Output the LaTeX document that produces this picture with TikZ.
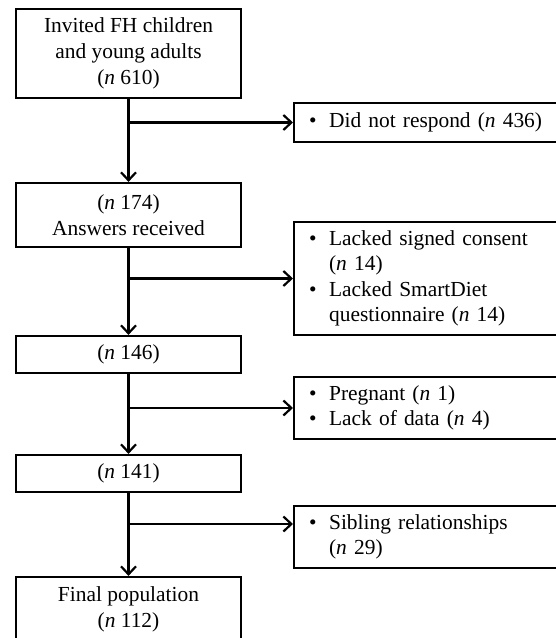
\documentclass[tikz,border=0pt]{standalone}
\usepackage{fontspec}
\setmainfont{Liberation Serif}
\usetikzlibrary{arrows.meta, positioning}

\newcommand{\bul}{\makebox[20bp][l]{\textbullet}}
\newcommand{\ind}{\hspace*{20bp}}
\newcommand{\nn}{\textit{n}}

\tikzset{
  mainbox/.style={draw, line width=2.2bp, minimum width=225bp, align=center, inner sep=0pt,
    font=\fontsize{21.5}{26}\selectfont},
  exclbox/.style={draw, line width=2.2bp, anchor=west, align=left, inner xsep=15bp, inner ysep=0pt,
    text width=240bp, font=\fontsize{21.5}{25.5}\selectfont},
  flow/.style={line width=2.2bp, -{Straight Barb[length=8bp,width=15bp,line width=2.2bp]}},
}

\begin{document}
\begin{tikzpicture}[x=1bp, y=-1bp]
  \useasboundingbox (0,0) rectangle (556,638);

  % Main flow boxes
  \node[mainbox, minimum height=89bp] (invited) at (128.5,53.5)
    {Invited FH children\\and young adults\\(\nn{} 610)};
  \node[mainbox, minimum height=64bp] (answers) at (128.5,215)
    {(\nn{} 174)\\Answers received};
  \node[mainbox, minimum height=37bp] (n146) at (128.5,354.5) {(\nn{} 146)};
  \node[mainbox, minimum height=37bp] (n141) at (128.5,473.5) {(\nn{} 141)};
  \node[mainbox, minimum height=64bp] (final) at (128.5,609)
    {Final population\\(\nn{} 112)};

  % Exclusion boxes
  \node[exclbox, minimum height=39bp] (noresp) at (293,122.5)
    {\bul Did not respond (\nn{} 436)};
  \node[exclbox, minimum height=113bp] (consent) at (293,278.5)
    {\bul Lacked signed consent\\\ind(\nn{} 14)\\\bul Lacked SmartDiet\\\ind questionnaire (\nn{} 14)};
  \node[exclbox, minimum height=62bp] (pregnant) at (293,408)
    {\bul Pregnant (\nn{} 1)\\\bul Lack of data (\nn{} 4)};
  \node[exclbox, minimum height=62bp] (sibling) at (293,537)
    {\bul Sibling relationships\\\ind(\nn{} 29)};

  % Branch points
  \coordinate (j1) at (128.5,122.5);
  \coordinate (j2) at (128.5,278.5);
  \coordinate (j3) at (128.5,408);
  \coordinate (j4) at (128.5,524);

  % Arrows
  \draw[flow] (invited) -- (answers);
  \draw[flow] (answers) -- (n146);
  \draw[flow] (n146) -- (n141);
  \draw[flow] (n141) -- (final);
  \draw[flow] (j1) -- (j1 -| noresp.west);
  \draw[flow] (j2) -- (j2 -| consent.west);
  \draw[flow] (j3) -- (j3 -| pregnant.west);
  \draw[flow] (j4) -- (j4 -| sibling.west);
\end{tikzpicture}
\end{document}
